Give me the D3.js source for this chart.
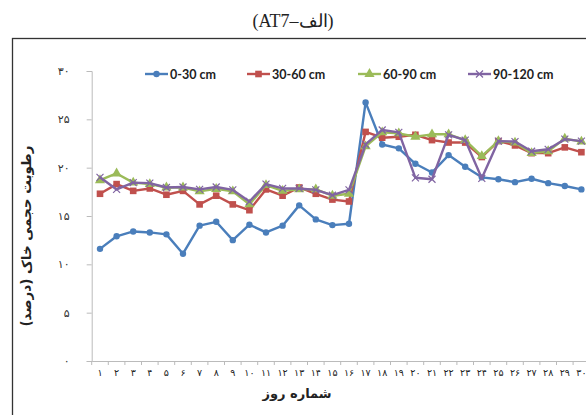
<!DOCTYPE html>
<html lang="fa">
  <head>
    <meta charset="UTF-8" />
    <title>AT7</title>
    <script src="https://cdn.jsdelivr.net/npm/d3@7"></script>
    <style>
      body { margin: 0; background: #fff; }
    </style>
  </head>
  <body>
    <svg width="586" height="415"></svg>
  </body>
  <script>
    var days = d3.range(1, 31);
    var dayLabels = ["۱","۲","۳","۴","۵","۶","۷","۸","۹","۱۰","۱۱","۱۲","۱۳","۱۴","۱۵","۱۶","۱۷","۱۸","۱۹","۲۰","۲۱","۲۲","۲۳","۲۴","۲۵","۲۶","۲۷","۲۸","۲۹","۳۰"];
    var yTicks = [0, 5, 10, 15, 20, 25, 30];
    var yTickLabels = ["۰", "۵", "۱۰", "۱۵", "۲۰", "۲۵", "۳۰"];

    var d0_30 = [11.6, 12.9, 13.4, 13.3, 13.1, 11.1, 14.0, 14.4, 12.5, 14.1, 13.3, 14.0, 16.1, 14.65, 14.06, 14.2,
      26.75, 22.4, 22.0, 20.4, 19.5, 21.3, 20.1, 19.0, 18.8, 18.5, 18.85, 18.4, 18.1, 17.75];
    var d30_60 = [17.3, 18.3, 17.6, 17.85, 17.2, 17.6, 16.2, 17.1, 16.2, 15.6, 17.75, 17.1, 17.95, 17.3, 16.7, 16.5,
      23.7, 23.1, 23.2, 23.4, 22.85, 22.6, 22.6, 21.1, 22.75, 22.3, 21.5, 21.5, 22.1, 21.6];
    var d60_90 = [18.7, 19.4, 18.45, 18.3, 17.95, 17.95, 17.55, 17.8, 17.55, 16.2, 18.2, 17.6, 17.75, 17.75, 17.1, 17.3,
      22.2, 23.65, 23.55, 23.2, 23.45, 23.45, 22.85, 21.2, 22.75, 22.6, 21.5, 21.7, 23.0, 22.7];
    var d90_120 = [19.0, 17.75, 18.45, 18.4, 17.95, 18.0, 17.75, 18.0, 17.7, 16.5, 18.3, 17.85, 17.85, 17.7, 17.15, 17.7,
      22.4, 23.9, 23.65, 18.95, 18.8, 23.4, 22.85, 18.9, 22.75, 22.7, 21.7, 21.9, 22.95, 22.75];

    var seriesNames = ["0-30 cm", "30-60 cm", "60-90 cm", "90-120 cm"];
    var seriesColors = ["#4a7ebb", "#c0504d", "#9bbb59", "#8064a2"];
    var seriesMarkers = ["circle", "square", "triangle", "cross"];
    var seriesValues = [d0_30, d30_60, d60_90, d90_120];

    var svg = d3.select("svg");

    // outer frame
    svg.append("rect")
      .attr("x", 12.5).attr("y", 38.5)
      .attr("width", 600).attr("height", 400)
      .attr("fill", "none").attr("stroke", "#333").attr("stroke-width", 1.3);

    // title (typed in visual order)
    svg.append("text")
      .attr("x", 293).attr("y", 27)
      .attr("text-anchor", "middle")
      .attr("font-family", "Liberation Serif, DejaVu Serif, serif")
      .attr("font-size", "18px")
      .attr("fill", "#222")
      .text("(AT7–الف)");

    var x = d3.scaleBand().domain(days).range([91.7, 91.7 + 30 * 16.6]);
    var y = d3.scaleLinear().domain([0, 30]).range([361, 71]);

    var cx = function (i) { return x(days[i]) + x.bandwidth() / 2; };

    // y axis
    var yAxis = d3.axisLeft(y).tickValues(yTicks)
      .tickFormat(function (d, i) { return yTickLabels[i]; })
      .tickSize(5).tickPadding(17);
    var gy = svg.append("g").attr("transform", "translate(91.7,0)").call(yAxis);
    gy.select(".domain").attr("stroke", "#bbb");
    gy.selectAll(".tick line").attr("stroke", "#bbb");
    gy.selectAll("text")
      .attr("font-family", "DejaVu Sans, sans-serif")
      .attr("font-size", "11px")
      .attr("fill", "#333");

    // x axis
    var xAxis = d3.axisBottom(x).tickFormat(function (d, i) { return dayLabels[i]; })
      .tickSize(0).tickPadding(8);
    var gx = svg.append("g").attr("transform", "translate(0,361)").call(xAxis);
    gx.select(".domain").attr("stroke", "#bbb");
    gx.selectAll("text")
      .attr("font-family", "DejaVu Sans, sans-serif")
      .attr("font-size", "9.5px")
      .attr("fill", "#222");
    // tick marks between categories
    gx.selectAll("line.sep")
      .data(days)
      .enter()
      .append("line")
      .attr("class", "sep")
      .attr("x1", function (d) { return x(d); })
      .attr("x2", function (d) { return x(d); })
      .attr("y1", 0).attr("y2", 4)
      .attr("stroke", "#bbb");

    // axis titles
    svg.append("text")
      .attr("x", 297).attr("y", 398)
      .attr("text-anchor", "middle")
      .attr("font-family", "DejaVu Sans, sans-serif")
      .attr("font-weight", "bold")
      .attr("font-size", "13px")
      .attr("fill", "#222")
      .text("شماره روز");

    svg.append("text")
      .attr("transform", "translate(31,236) rotate(-90)")
      .attr("text-anchor", "middle")
      .attr("font-family", "DejaVu Sans, sans-serif")
      .attr("font-weight", "bold")
      .attr("font-size", "13.5px")
      .attr("fill", "#222")
      .text("رطوبت حجمی خاک (درصد)");

    function drawMarker(g, kind, color) {
      if (kind === "circle") {
        g.append("circle").attr("r", 3.2).attr("fill", color);
      } else if (kind === "square") {
        g.append("rect").attr("x", -3.3).attr("y", -3.3).attr("width", 6.6).attr("height", 6.6).attr("fill", color);
      } else if (kind === "triangle") {
        g.append("path").attr("d", d3.symbol().type(d3.symbolTriangle).size(45)).attr("fill", color);
      } else {
        g.append("path").attr("d", "M-3.5,-3.5L3.5,3.5M-3.5,3.5L3.5,-3.5")
          .attr("stroke", color).attr("stroke-width", 1.2).attr("fill", "none");
      }
    }

    var line = d3.line()
      .x(function (d, i) { return cx(i); })
      .y(function (d) { return y(d); });

    seriesValues.forEach(function (vals, s) {
      svg.append("path")
        .datum(vals)
        .attr("d", line)
        .attr("fill", "none")
        .attr("stroke", seriesColors[s])
        .attr("stroke-width", 2.4)
        .attr("stroke-linejoin", "round");
      svg.selectAll("g.m" + s)
        .data(vals)
        .enter()
        .append("g")
        .attr("class", "m" + s)
        .attr("transform", function (d, i) { return "translate(" + cx(i) + "," + y(d) + ")"; })
        .each(function () { drawMarker(d3.select(this), seriesMarkers[s], seriesColors[s]); });
    });

    // legend
    var legendX = [145, 247, 358, 468];
    seriesNames.forEach(function (name, s) {
      var g = svg.append("g").attr("transform", "translate(" + legendX[s] + ",74)");
      g.append("line").attr("x1", 0).attr("x2", 23).attr("stroke", seriesColors[s]).attr("stroke-width", 2.4);
      var m = g.append("g").attr("transform", "translate(11.5,0)");
      drawMarker(m, seriesMarkers[s], seriesColors[s]);
      g.append("text")
        .attr("x", 25).attr("y", 4.5)
        .attr("font-family", "Lato, Open Sans, sans-serif")
        .attr("font-weight", "bold")
        .attr("font-size", "12.5px")
        .attr("fill", "#222")
        .text(name);
    });
  </script>
</html>
